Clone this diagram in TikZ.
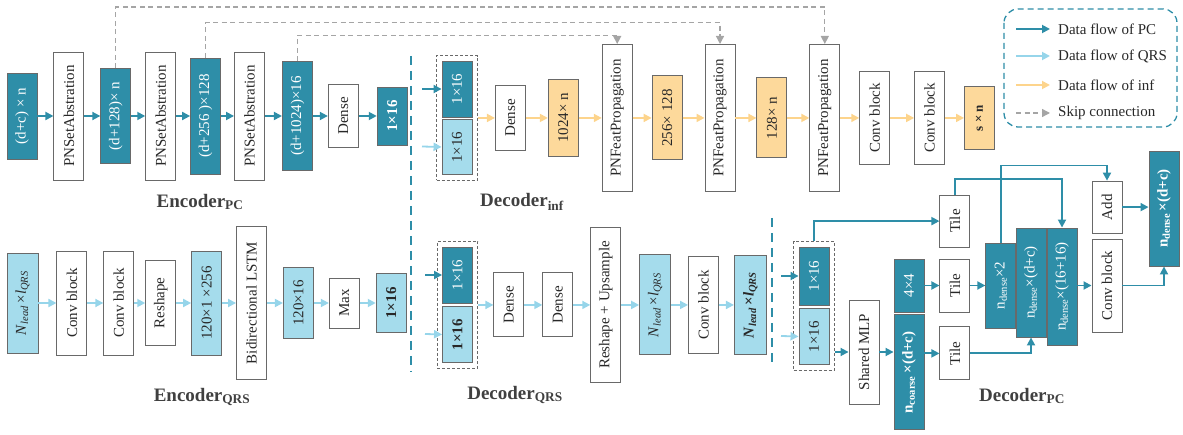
\documentclass[tikz,border=0pt]{standalone}
\usepackage{fontspec}
\setmainfont{Liberation Serif}
\usepackage{graphicx}
\usetikzlibrary{positioning,fit,arrows.meta}

\definecolor{pcblue}{RGB}{46,142,168}
\definecolor{qrsblue}{RGB}{165,220,236}
\definecolor{qrsline}{RGB}{150,213,234}
\definecolor{infyellow}{RGB}{253,217,155}
\definecolor{infline}{RGB}{253,212,140}
\definecolor{edgegray}{RGB}{105,105,105}
\definecolor{skipgray}{RGB}{165,165,165}
\definecolor{titlegray}{RGB}{64,64,64}
\definecolor{textdark}{RGB}{40,40,40}

\newcommand{\vtext}[1]{\rotatebox{90}{#1}}

\tikzset{
  blk/.style={draw=edgegray, line width=0.9pt, minimum width=30pt, inner sep=0pt, font=\fontsize{15}{18}\selectfont},
  opbox/.style={blk, fill=white, text=textdark, minimum height=#1},
  pcfeat/.style={blk, fill=pcblue, text=white, minimum height=#1},
  qrsfeat/.style={blk, fill=qrsblue, text=textdark, minimum height=#1},
  inffeat/.style={blk, fill=infyellow, text=textdark, minimum height=#1},
  grpbox/.style={draw=edgegray, line width=1pt, dash pattern=on 3pt off 2pt, inner sep=5pt},
  flow/.style={line width=1.8pt, -{Triangle[length=8pt,width=8pt]}},
  pcflow/.style={flow, draw=pcblue},
  qrsflow/.style={flow, draw=qrsline},
  infflow/.style={flow, draw=infline},
  skipflow/.style={draw=skipgray, line width=1.3pt, dash pattern=on 5pt off 3.5pt, -{Triangle[length=8pt,width=8pt]}},
  sepline/.style={draw=pcblue, line width=1.8pt, dash pattern=on 9pt off 6pt},
  legendframe/.style={draw=pcblue, line width=1.3pt, dash pattern=on 6pt off 4pt, rounded corners=14pt},
  legtext/.style={anchor=west, inner sep=0pt, font=\fontsize{15}{18}\selectfont, text=textdark},
  stagetitle/.style={font=\fontsize{19}{22}\selectfont\bfseries, text=titlegray},
}

\begin{document}
\begin{tikzpicture}[x=1pt, y=-1pt]
\useasboundingbox (0,0) rectangle (1183,435);

% encoder of the point cloud
\node[pcfeat=86] (pcin) at (22,116) {\vtext{(d+c) × n}};
\node[opbox=128, right=16pt of pcin] (psa1) {\vtext{PNSetAbstration}};
\node[pcfeat=95, right=16pt of psa1] (pc128) {\vtext{(d+128)× n}};
\node[opbox=128, right=14pt of pc128] (psa2) {\vtext{PNSetAbstration}};
\node[pcfeat=116, right=14pt of psa2] (pc256) {\vtext{(d+256 )×128}};
\node[opbox=128, right=13pt of pc256] (psa3) {\vtext{PNSetAbstration}};
\node[pcfeat=109, right=17pt of psa3] (pc1024) {\vtext{(d+1024)×16}};
\node[opbox=63, right=15pt of pc1024] (pdense) {\vtext{Dense}};
\node[pcfeat=58, right=18pt of pdense] (pclat) {\vtext{\textbf{1×16}}};
\foreach \a/\b in {pcin/psa1, psa1/pc128, pc128/psa2, psa2/pc256, pc256/psa3, psa3/pc1024, pc1024/pdense, pdense/pclat}
  \draw[pcflow] (\a) -- (\b);
\node[stagetitle] (tencpc) at (200,202) {Encoder\textsubscript{PC}};

% encoder of the QRS
\node[qrsfeat=100, minimum width=31pt] (qin) at (22.5,303) {\vtext{\textit{N}\textsubscript{\textit{lead}}\,×\textit{l}\textsubscript{\textit{QRS}}}};
\node[opbox=104, right=18pt of qin] (qconv1) {\vtext{Conv block}};
\node[opbox=104, right=16pt of qconv1] (qconv2) {\vtext{Conv block}};
\node[opbox=85, right=11pt of qconv2] (qresh) {\vtext{Reshape}};
\node[qrsfeat=104, right=15pt of qresh] (q120) {\vtext{120×1 ×256}};
\node[opbox=153, right=14pt of q120] (qlstm) {\vtext{Bidirectional LSTM}};
\node[qrsfeat=71, right=16pt of qlstm] (q12016) {\vtext{120×16}};
\node[opbox=50, right=15pt of q12016] (qmax) {\vtext{Max}};
\node[qrsfeat=59, right=16pt of qmax] (qlat) {\vtext{\textbf{1×16}}};
\foreach \a/\b in {qin/qconv1, qconv1/qconv2, qconv2/qresh, qresh/q120, q120/qlstm, qlstm/q12016, q12016/qmax, qmax/qlat}
  \draw[qrsflow] (\a) -- (\b);
\node[stagetitle] (tencqrs) at (202,397) {Encoder\textsubscript{QRS}};

% section separators
\draw[sepline] (411,56) -- (411,372);
\draw[sepline] (772,218) -- (772,363);

% decoder of the influence
\node[pcfeat=56] (ifpc) at (457,89) {\vtext{1×16}};
\node[qrsfeat=55, below=2pt of ifpc] (iqrs) {\vtext{1×16}};
\node[grpbox, fit=(ifpc)(iqrs)] (igrp) {};
\coordinate (iinpc) at (422,89);
\coordinate (iinqrs) at (422,146.5);
\draw[pcflow] (iinpc) -- (ifpc);
\draw[qrsflow] (iinqrs) -- (iqrs);
\node[opbox=65, right=17pt of igrp] (idense) {\vtext{Dense}};
\node[inffeat=77, right=22pt of idense] (i1024) {\vtext{1024× n}};
\node[opbox=147, right=23pt of i1024] (ipf1) {\vtext{PNFeatPropagation}};
\node[inffeat=84, right=19pt of ipf1] (i256) {\vtext{256× 128}};
\node[opbox=147, right=22pt of i256] (ipf2) {\vtext{PNFeatPropagation}};
\node[inffeat=80, right=21pt of ipf2] (i128) {\vtext{128× n}};
\node[opbox=147, right=22pt of i128] (ipf3) {\vtext{PNFeatPropagation}};
\node[opbox=93, right=19pt of ipf3] (iconv1) {\vtext{Conv block}};
\node[opbox=93, right=24pt of iconv1] (iconv2) {\vtext{Conv block}};
\node[inffeat=63, right=19pt of iconv2] (isn) {\vtext{\fontsize{13}{15}\selectfont\textbf{s × n}}};
\foreach \a/\b in {igrp/idense, idense/i1024, i1024/ipf1, ipf1/i256, i256/ipf2, ipf2/i128, i128/ipf3, ipf3/iconv1, iconv1/iconv2, iconv2/isn}
  \draw[infflow] (\a) -- (\b);
\node[stagetitle] (tdecinf) at (522,202) {Decoder\textsubscript{inf}};

% skip connections
\draw[skipflow] (pc128.north) |- ([yshift=37pt]ipf3.north) -- (ipf3.north);
\draw[skipflow] (pc256.north) |- ([yshift=21.5pt]ipf2.north) -- (ipf2.north);
\draw[skipflow] (pc1024.north) |- ([yshift=8.5pt]ipf1.north) -- (ipf1.north);

% decoder of the QRS
\node[pcfeat=56] (dfpc) at (457.5,275) {\vtext{1×16}};
\node[qrsfeat=56, below=3pt of dfpc] (dqrs) {\vtext{\textbf{1×16}}};
\node[grpbox, fit=(dfpc)(dqrs)] (dgrp) {};
\coordinate (dinpc) at (425,275);
\coordinate (dinqrs) at (425,334);
\draw[pcflow] (dinpc) -- (dfpc);
\draw[qrsflow] (dinqrs) -- (dqrs);
\node[opbox=64, right=15pt of dgrp] (ddense1) {\vtext{Dense}};
\node[opbox=64, right=18pt of ddense1] (ddense2) {\vtext{Dense}};
\node[opbox=155, right=17pt of ddense2] (dups) {\vtext{Reshape + Upsample}};
\node[qrsfeat=100, minimum width=31pt, right=18pt of dups] (dnl1) {\vtext{\textit{N}\textsubscript{\textit{lead}}\,×\textit{l}\textsubscript{\textit{QRS}}}};
\node[opbox=97, right=17pt of dnl1] (dconv) {\vtext{Conv block}};
\node[qrsfeat=99, minimum width=32pt, right=15pt of dconv] (dnl2) {\vtext{\textbf{\textit{N}\textsubscript{\textit{lead}}\,×\textit{l}\textsubscript{\textit{QRS}}}}};
\foreach \a/\b in {dgrp/ddense1, ddense1/ddense2, ddense2/dups, dups/dnl1, dnl1/dconv, dconv/dnl2}
  \draw[qrsflow] (\a) -- (\b);
\node[stagetitle] (tdecqrs) at (515,395) {Decoder\textsubscript{QRS}};

% decoder of the point cloud
\node[pcfeat=58] (gfpc) at (814,276) {\vtext{1×16}};
\node[qrsfeat=56, below=3pt of gfpc] (gqrs) {\vtext{1×16}};
\node[grpbox, fit=(gfpc)(gqrs)] (ggrp) {};
\coordinate (ginpc) at (781,276);
\coordinate (ginqrs) at (781,336);
\draw[pcflow] (ginpc) -- (gfpc);
\draw[qrsflow] (ginqrs) -- (gqrs);
\node[opbox=104] (smlp) at (864,352) {\vtext{Shared MLP}};
\node[pcfeat=53] (p44) at (909,285.5) {\vtext{4×4}};
\node[pcfeat=115, below=2pt of p44] (pcoarse) {\vtext{\textbf{n\textsubscript{coarse}\,×(d+c)}}};
\node[opbox=53, right=15pt of p44] (tile2) {\vtext{Tile}};
\node[opbox=52, above=11pt of tile2] (tile1) {\vtext{Tile}};
\node[opbox=53, below=14pt of tile2] (tile3) {\vtext{Tile}};
\node[pcfeat=85, right=15pt of tile2] (nd2) {\vtext{n\textsubscript{dense}×2}};
\node[pcfeat=109] (ndc) at (1031,282.5) {\vtext{n\textsubscript{dense}×(d+c)}};
\node[pcfeat=117] (nd1616) at (1062,286.5) {\vtext{n\textsubscript{dense}×(16+16)}};
\node[opbox=93] (pconv) at (1107,285.5) {\vtext{Conv block}};
\node[opbox=52, above=5pt of pconv] (add) {\vtext{Add}};
\node[pcfeat=115] (pout) at (1164,208.5) {\vtext{\textbf{n\textsubscript{dense}\,×(d+c)}}};
\draw[pcflow] (ggrp.north) |- (tile1);
\draw[pcflow] (ggrp.east |- smlp) -- (smlp);
\draw[pcflow] (smlp.east) -- (smlp.east -| pcoarse.west);
\draw[pcflow] (p44) -- (tile2);
\draw[pcflow] (pcoarse.east |- tile3) -- (tile3);
\draw[pcflow] (tile2) -- (nd2);
\draw[pcflow] (tile3) -| (ndc);
\draw[pcflow] (tile1.north) -- ++(0,-16) -| (nd1616);
\draw[pcflow] (nd2.north) -- ++(0,-77) -| (add);
\draw[pcflow] (nd1616.east |- pconv) -- (pconv);
\draw[pcflow] (add) -- (add -| pout.west);
\draw[pcflow] (pconv) -| (pout);
\node[stagetitle] (tdecpc) at (1022,396) {Decoder\textsubscript{PC}};

% legend
\draw[legendframe] (1004,9) rectangle (1177,127);
\coordinate (lgpcs) at (1016,29);   \coordinate (lgpce) at (1050,29);
\coordinate (lgqrss) at (1016,56);  \coordinate (lgqrse) at (1050,56);
\coordinate (lginfs) at (1016,85);  \coordinate (lginfe) at (1050,85);
\coordinate (lgskips) at (1016,113); \coordinate (lgskipe) at (1050,113);
\draw[pcflow] (lgpcs) -- (lgpce);
\draw[qrsflow] (lgqrss) -- (lgqrse);
\draw[infflow] (lginfs) -- (lginfe);
\draw[skipflow] (lgskips) -- (lgskipe);
\node[legtext] (lgpc) at (1058,29) {Data flow of PC};
\node[legtext] (lgqrs) at (1058,56) {Data flow of QRS};
\node[legtext] (lginf) at (1058,85) {Data flow of inf};
\node[legtext] (lgskip) at (1058,113) {Skip connection};
\end{tikzpicture}
\end{document}
